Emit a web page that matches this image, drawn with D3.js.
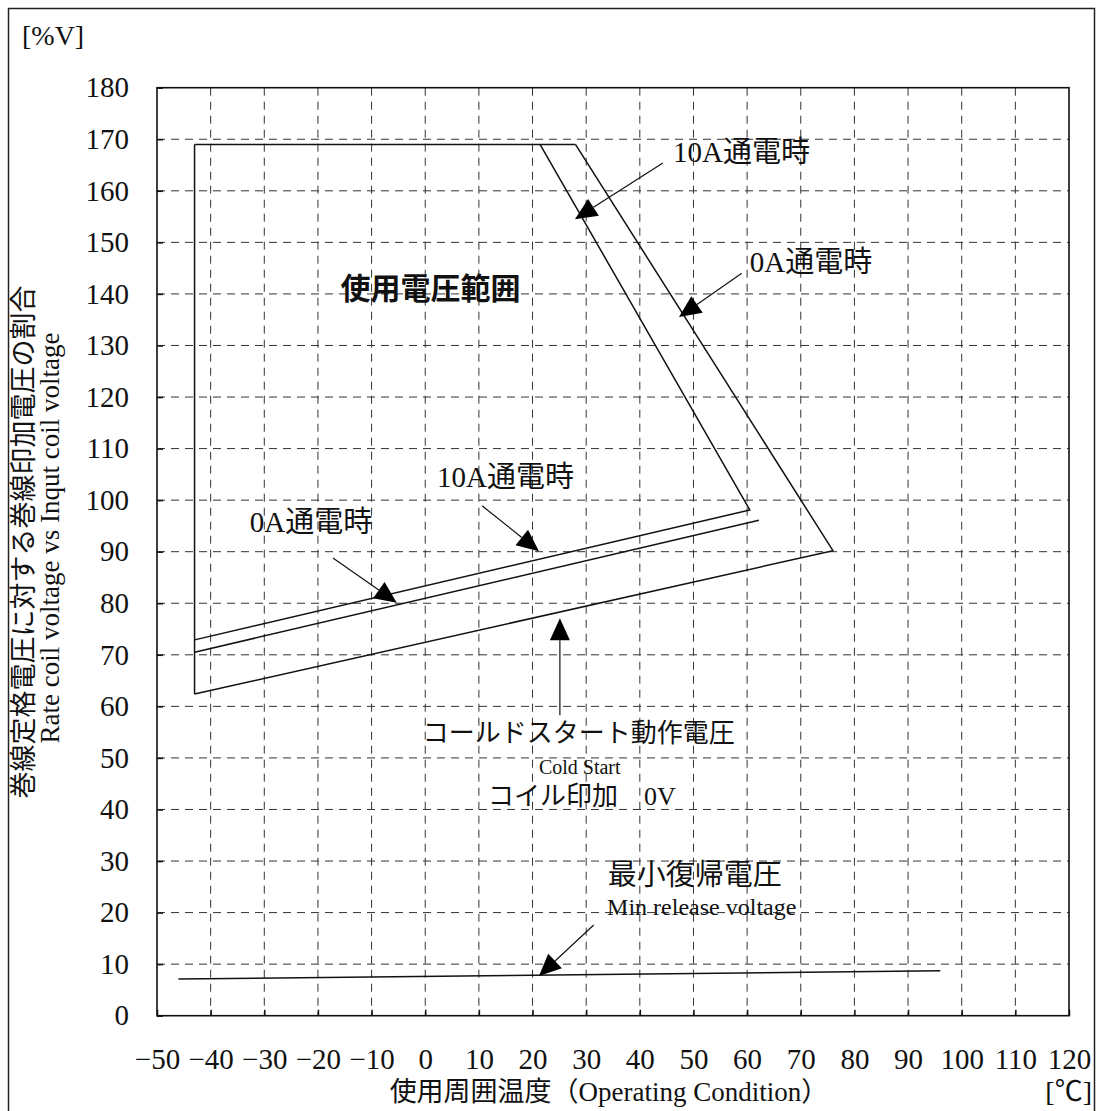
<!DOCTYPE html>
<html>
<head>
<meta charset="utf-8">
<script src="https://cdn.jsdelivr.net/npm/d3@7/dist/d3.min.js"></script>
<style>
  html, body { margin: 0; padding: 0; background: #fff; }
  svg { display: block; }
  text { font-family: "Liberation Serif", "Noto Sans CJK JP", serif; fill: #111; }
</style>
</head>
<body>
<svg id="chart" width="1097" height="1111"></svg>
<script>
// Axis ticks
const xTicks = [-50, -40, -30, -20, -10, 0, 10, 20, 30, 40, 50, 60, 70, 80, 90, 100, 110, 120];
const yTicks = [0, 10, 20, 30, 40, 50, 60, 70, 80, 90, 100, 110, 120, 130, 140, 150, 160, 170, 180];

// Operating-voltage region boundaries (temperature °C, % of rated coil voltage)
const rangeTop = [[-43, 169], [28, 169]];
const rangeLeft = [[-43, 169], [-43, 62.4]];
const boundary0A = [[28, 169], [76, 90.2], [-43, 62.4]];
const boundary10A = [[21.4, 169], [60.5, 98.1], [-43, 72.9]];
const coldStart0A = [[-43, 70.5], [62.2, 96.1]];
const minRelease = [[-46, 7.1], [96, 8.7]];

// Annotation arrows: [from, tip]
const arrows = [
  [[44.3, 165.4], [27.9, 154.5]],
  [[59.0, 144.0], [47.3, 135.5]],
  [[10.6, 98.9], [21.2, 90.1]],
  [[-17.2, 88.8], [-5.3, 80.1]],
  [[25.1, 58.3], [25.1, 77.1]],
  [[31.4, 17.6], [21.2, 7.7]]
];

// Annotation texts: [text, x, y, anchor, size, weight]
const notes = [
  ["10A通電時", 46.2, 167.7, "start", 29, "normal"],
  ["0A通電時", 60.5, 146.2, "start", 29, "normal"],
  ["使用電圧範囲", -15.8, 141.1, "start", 30, "bold"],
  ["10A通電時", 2.2, 104.5, "start", 29, "normal"],
  ["0A通電時", -32.7, 95.9, "start", 29, "normal"],
  ["コールドスタート動作電圧", 28.6, 54.9, "middle", 26, "normal"],
  ["Cold Start", 28.8, 48.3, "middle", 20, "normal"],
  ["コイル印加　0V", 29.2, 42.6, "middle", 26, "normal"],
  ["最小復帰電圧", 34.0, 27.3, "start", 29, "normal"],
  ["Min release voltage", 33.9, 21.3, "start", 24, "normal"]
];

const svg = d3.select("#chart");
const pLeft = 157, pRight = 1069, pTop = 87.7, pBottom = 1015.7;
const x = d3.scaleLinear().domain([-50, 120]).range([pLeft, pRight]);
const y = d3.scaleLinear().domain([0, 180]).range([pBottom, pTop]);

// Outer frame
svg.append("rect")
  .attr("x", 8.5).attr("y", 8.5).attr("width", 1086).attr("height", 1120)
  .attr("fill", "none").attr("stroke", "#222").attr("stroke-width", 1.5);

// Dashed grid
const grid = svg.append("g").attr("stroke", "#333").attr("stroke-width", 1).attr("stroke-dasharray", "8,6");
grid.selectAll("line.v").data(xTicks.slice(1, -1)).join("line")
  .attr("x1", d => x(d)).attr("x2", d => x(d)).attr("y1", pTop).attr("y2", pBottom);
grid.selectAll("line.h").data(yTicks.slice(1, -1)).join("line")
  .attr("y1", d => y(d)).attr("y2", d => y(d)).attr("x1", pLeft).attr("x2", pRight);

// Axes with inward ticks
const xAxis = svg.append("g").attr("transform", `translate(0,${pBottom})`)
  .call(d3.axisBottom(x).tickValues(xTicks).tickSizeInner(-6).tickSizeOuter(0).tickPadding(33));
const yAxis = svg.append("g").attr("transform", `translate(${pLeft},0)`)
  .call(d3.axisLeft(y).tickValues(yTicks).tickSizeInner(-6).tickSizeOuter(0).tickPadding(28));
[xAxis, yAxis].forEach(a => {
  a.select(".domain").remove();
  a.selectAll(".tick line").attr("stroke", "#111").attr("stroke-width", 1.5);
  a.selectAll(".tick text").attr("font-size", 29).attr("font-family", "Liberation Serif, serif").attr("fill", "#111");
});

// Plot frame
svg.append("rect")
  .attr("x", pLeft).attr("y", pTop).attr("width", pRight - pLeft).attr("height", pBottom - pTop)
  .attr("fill", "none").attr("stroke", "#111").attr("stroke-width", 1.6);

// Boundary lines
const line = d3.line().x(d => x(d[0])).y(d => y(d[1]));
[rangeTop, rangeLeft, boundary0A, boundary10A, coldStart0A, minRelease].forEach(pts => {
  svg.append("path").attr("d", line(pts))
    .attr("fill", "none").attr("stroke", "#111").attr("stroke-width", 1.5);
});

// Arrows with filled heads
const headLen = 22, headHalf = 10;
arrows.forEach(([from, tip]) => {
  const x0 = x(from[0]), y0 = y(from[1]), x1 = x(tip[0]), y1 = y(tip[1]);
  const len = Math.hypot(x1 - x0, y1 - y0);
  const ux = (x1 - x0) / len, uy = (y1 - y0) / len;
  const bx = x1 - ux * headLen, by = y1 - uy * headLen;
  svg.append("line").attr("x1", x0).attr("y1", y0).attr("x2", bx).attr("y2", by)
    .attr("stroke", "#111").attr("stroke-width", 1.2);
  svg.append("path")
    .attr("d", `M${x1},${y1}L${bx - uy * headHalf},${by + ux * headHalf}L${bx + uy * headHalf},${by - ux * headHalf}Z`)
    .attr("fill", "#000");
});

// Annotation texts
notes.forEach(([t, vx, vy, anchor, size, weight]) => {
  svg.append("text").attr("x", x(vx)).attr("y", y(vy)).attr("dy", "0.36em")
    .attr("text-anchor", anchor).attr("font-size", size).attr("font-weight", weight)
    .text(t);
});

// Axis titles and units
svg.append("text").attr("x", 22).attr("y", 45).attr("font-size", 28).text("[%V]");
svg.append("text").attr("x", 1092).attr("y", 1101).attr("text-anchor", "end").attr("font-size", 28).text("[℃]");
svg.append("text").attr("x", 609).attr("y", 1101).attr("text-anchor", "middle").attr("font-size", 27)
  .text("使用周囲温度（Operating Condition）");
svg.append("text").attr("transform", "translate(33,542) rotate(-90)").attr("text-anchor", "middle")
  .attr("font-size", 27).text("巻線定格電圧に対する巻線印加電圧の割合");
svg.append("text").attr("transform", "translate(59,538) rotate(-90)").attr("text-anchor", "middle")
  .attr("font-size", 27).text("Rate coil voltage vs Inqut coil voltage");
</script>
</body>
</html>
